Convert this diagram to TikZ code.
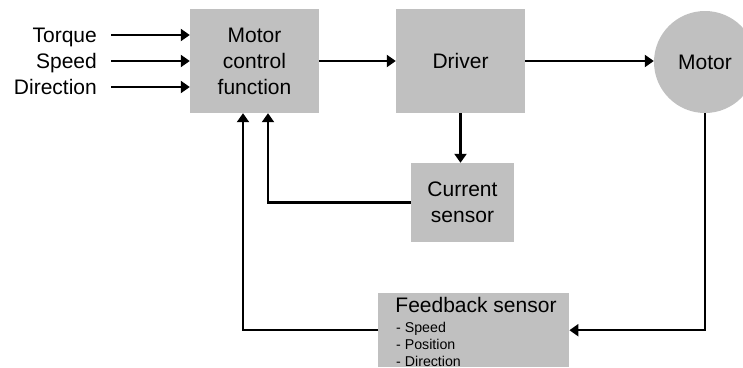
\documentclass[tikz,border=0pt]{standalone}
\usepackage{fontspec}
\setmainfont{Liberation Sans}
\usetikzlibrary{arrows.meta}
\definecolor{boxgray}{HTML}{C0C0C0}
\newcommand\mainsize{\fontsize{21}{26}\selectfont}
\newcommand\itemsize{\fontsize{14.2}{17}\selectfont}
\begin{document}
\begin{tikzpicture}[x=1pt,y=-1pt,
  block/.style={fill=boxgray, draw=none, inner sep=0pt, align=center, font=\mainsize},
  inlabel/.style={font=\mainsize, inner sep=0pt, text height=15pt, text depth=0pt, anchor=east},
  link/.style={line width=2.1pt, -{Triangle[length=9pt,width=12pt]}},
  plain/.style={font=\mainsize, inner sep=0pt}]
\useasboundingbox (0,0) rectangle (743,367);
\clip (0,0) rectangle (743,367);

% blocks
\node[block, minimum width=129pt, minimum height=104pt] (mcf) at (254.5,61) {Motor\\control\\function};
\node[block, minimum width=129pt, minimum height=104pt] (drv) at (460.5,61) {Driver};
\node[block, circle, minimum size=102pt] (mot) at (705,62) {Motor};
\node[block, minimum width=103pt, minimum height=79pt] (cs) at (462.5,202.5) {Current\\sensor};
\node[block, minimum width=191pt, minimum height=74pt, anchor=north west] (fb) at (378,293) {};
\node[plain, anchor=base] (fbt) at (476,312) {Feedback sensor};
\node[plain, font=\itemsize, anchor=base west] (fbs) at (396,332) {- Speed};
\node[plain, font=\itemsize, anchor=base west] (fbp) at (396,349) {- Position};
\node[plain, font=\itemsize, anchor=base west] (fbd) at (396,366) {- Direction};

% inputs
\node[inlabel] (tq) at (97,35) {Torque};
\node[inlabel] (sp) at (97,61) {Speed};
\node[inlabel] (dir) at (97,87) {Direction};
\draw[link] ([xshift=14pt]tq.east) -- (tq.east -| mcf.west);
\draw[link] ([xshift=14pt]sp.east) -- (sp.east -| mcf.west);
\draw[link] ([xshift=14pt]dir.east) -- (dir.east -| mcf.west);

% forward path
\draw[link] (mcf.east) -- (drv.west);
\draw[link] (drv.east) -- (drv.east -| mot.west);
\draw[link] (drv.south) -- (drv.south |- cs.north);

% feedback paths
\draw[link] (cs.west) -| ([xshift=13.5pt]mcf.south);
\draw[link] (mot.south) |- (fb.east);
\draw[link] (fb.west) -| ([xshift=-11.5pt]mcf.south);
\end{tikzpicture}
\end{document}
